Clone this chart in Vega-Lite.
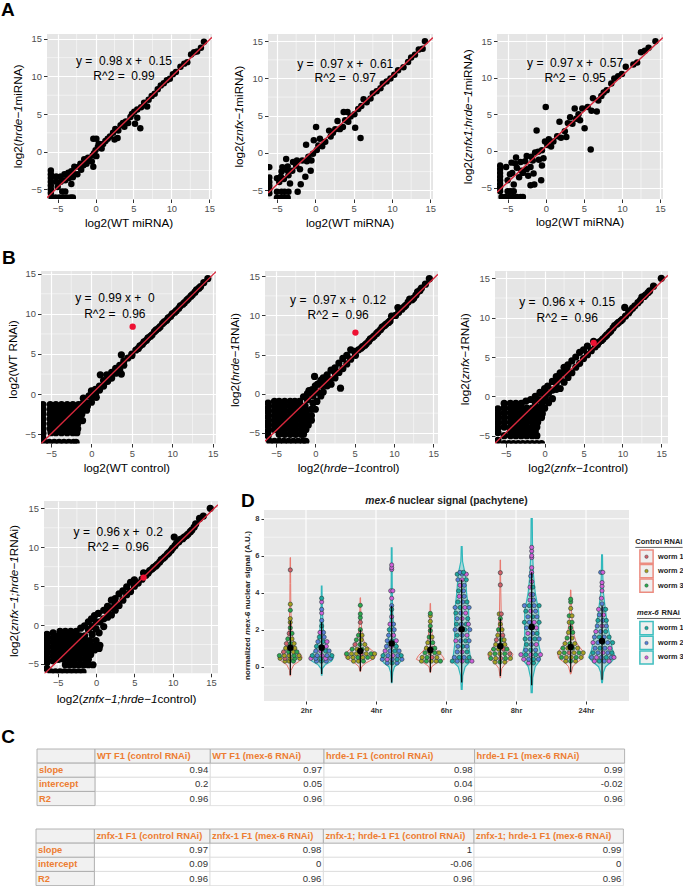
{"$schema":"https://vega.github.io/schema/vega-lite/v6.json","padding":{"left":0,"top":1,"right":0,"bottom":0},"background":"white","config":{"font":"Liberation Sans","view":{"stroke":null},"axis":{"grid":true,"gridColor":"white","gridWidth":1.2,"domain":false,"tickColor":"#333333","tickSize":3.5,"tickWidth":1,"labelColor":"#4D4D4D","labelFontSize":9.4,"labelPadding":2,"labelOverlap":false,"labelFlush":false,"titlePadding":0}},
"datasets":{"sp":[{"a":1}],
"mx":[{"x":-2.5},{"x":2.5},{"x":7.5},{"x":12.5}],"my":[{"y":-2.5},{"y":2.5},{"y":7.5},{"y":12.5}],
"A1":[{"x":-5.9,"y":-2.5},{"x":-5.9,"y":-3},{"x":-5.9,"y":-3.5},{"x":-5.9,"y":-4},{"x":-5.9,"y":-4.5},{"x":-5.9,"y":-5},{"x":-5.9,"y":-5.5},{"x":-5.2,"y":-3.3},{"x":-5.2,"y":-4},{"x":-5,"y":-4.7},{"x":-4.6,"y":-3.3},{"x":-4.6,"y":-4},{"x":-4.4,"y":-5.3},{"x":-4,"y":-5.3},{"x":-4.1,"y":-3},{"x":-4,"y":-3.8},{"x":-3.6,"y":-2.8},{"x":-3.5,"y":-3.5},{"x":-3.2,"y":-2.6},{"x":-3.2,"y":-4.3},{"x":-3,"y":-3.4},{"x":-2.8,"y":-2},{"x":-2.8,"y":-3},{"x":-2.4,"y":-3},{"x":-2.2,"y":-2},{"x":-2,"y":-1.6},{"x":-1.9,"y":-2.4},{"x":-1.6,"y":-1.8},{"x":-1.5,"y":-1},{"x":-1.2,"y":-1.6},{"x":-1,"y":-0.8},{"x":-0.8,"y":-1.2},{"x":-0.5,"y":-1.3},{"x":-0.4,"y":-0.5},{"x":-0.3,"y":-2},{"x":-0.2,"y":-0.2},{"x":0,"y":0.2},{"x":0.1,"y":-0.6},{"x":0.3,"y":0.6},{"x":0.5,"y":1},{"x":-0.3,"y":1.7},{"x":0.1,"y":1.7},{"x":0.4,"y":1},{"x":0.8,"y":0.4},{"x":1,"y":1},{"x":1.3,"y":1.4},{"x":1.6,"y":1.7},{"x":1.9,"y":2},{"x":2.3,"y":2.5},{"x":2.5,"y":1.6},{"x":2.6,"y":3},{"x":2.9,"y":1.8},{"x":3,"y":2.8},{"x":3.3,"y":3.5},{"x":3.6,"y":3.8},{"x":3.8,"y":3.3},{"x":4,"y":4},{"x":4.3,"y":3.8},{"x":4.6,"y":4.6},{"x":4.8,"y":5},{"x":5.1,"y":5.3},{"x":5.5,"y":5.6},{"x":5.2,"y":3.7},{"x":5.9,"y":3.1},{"x":5.5,"y":4.5},{"x":6,"y":5.9},{"x":6.4,"y":6.5},{"x":6.8,"y":6},{"x":7,"y":6.9},{"x":7.4,"y":7.4},{"x":7.8,"y":7.7},{"x":8.2,"y":8.3},{"x":8.6,"y":8.8},{"x":9,"y":9.1},{"x":9.4,"y":9.5},{"x":9.8,"y":9.7},{"x":10.2,"y":10.3},{"x":10.6,"y":10.6},{"x":11.2,"y":11.3},{"x":11.7,"y":11.7},{"x":12.1,"y":11.9},{"x":12.6,"y":12.9},{"x":13,"y":13.2},{"x":13.4,"y":13.3},{"x":13.9,"y":13.8},{"x":14.3,"y":14.6},{"x":-5.8,"y":-6.1},{"x":-5.3,"y":-6.1},{"x":-4.8,"y":-6.1},{"x":-4.3,"y":-6.1},{"x":-3.8,"y":-6.1},{"x":-3.3,"y":-6.1},{"x":-3,"y":-6.1}],
"A2":[{"x":-6,"y":-1.9},{"x":-6,"y":-3.3},{"x":-6,"y":-3.9},{"x":-6,"y":-4.4},{"x":-6,"y":-4.9},{"x":-6,"y":-5.4},{"x":-5,"y":-6},{"x":-4.5,"y":-6},{"x":-4,"y":-6},{"x":-3.6,"y":-6},{"x":-5,"y":-5.2},{"x":-4.4,"y":-5.2},{"x":-4,"y":-5.2},{"x":-3.5,"y":-5.2},{"x":-2.3,"y":-5.2},{"x":-5,"y":-3.4},{"x":-4.7,"y":-3.9},{"x":-4.5,"y":-3.2},{"x":-4.4,"y":-2.5},{"x":-4.3,"y":-1.9},{"x":-4.1,"y":-3.5},{"x":-3.8,"y":-0.8},{"x":-3.7,"y":-2.3},{"x":-3.6,"y":-1.8},{"x":-3.5,"y":-3},{"x":-3.3,"y":-4.1},{"x":-3,"y":-2.4},{"x":-2.9,"y":-1.2},{"x":-2.5,"y":-1.7},{"x":-2.4,"y":-1},{"x":-2,"y":-2.2},{"x":-1.9,"y":-4.2},{"x":-1.7,"y":-1},{"x":-1.3,"y":-3.2},{"x":-1.2,"y":1.1},{"x":-1.1,"y":-1.1},{"x":-0.9,"y":-0.5},{"x":-0.6,"y":-2.4},{"x":-0.5,"y":-1},{"x":-0.3,"y":-0.1},{"x":-0.2,"y":1.7},{"x":0.1,"y":3.5},{"x":0.2,"y":0.4},{"x":0.4,"y":1},{"x":0.6,"y":1.9},{"x":0.9,"y":0.9},{"x":1.3,"y":1.5},{"x":1.8,"y":3},{"x":2,"y":2.2},{"x":2.3,"y":2.7},{"x":2.6,"y":3.2},{"x":2.9,"y":4.3},{"x":3.2,"y":3.2},{"x":3.6,"y":3.5},{"x":3.7,"y":5.5},{"x":3.9,"y":4.4},{"x":4.2,"y":5.5},{"x":4.3,"y":4.2},{"x":4.6,"y":4.9},{"x":5.1,"y":5.2},{"x":5.2,"y":3.4},{"x":5.9,"y":2},{"x":5.6,"y":5.9},{"x":6,"y":6.3},{"x":6.3,"y":7.2},{"x":6.7,"y":6.8},{"x":7.2,"y":7.3},{"x":7.5,"y":8},{"x":8,"y":8.3},{"x":8.5,"y":8.7},{"x":8.8,"y":9.3},{"x":9.3,"y":9.6},{"x":9.8,"y":10},{"x":10.3,"y":10.5},{"x":10.8,"y":11.1},{"x":11.5,"y":11.5},{"x":12.1,"y":12.2},{"x":12.5,"y":12.8},{"x":13,"y":13.2},{"x":13.5,"y":13.9},{"x":14,"y":14},{"x":14.3,"y":15}],
"A3":[{"x":-6,"y":-2},{"x":-6,"y":-2.5},{"x":-6,"y":-3},{"x":-6,"y":-3.5},{"x":-6,"y":-4},{"x":-6,"y":-4.5},{"x":-6,"y":-5},{"x":-6,"y":-5.5},{"x":-5.8,"y":-6.3},{"x":-5.3,"y":-6.3},{"x":-4.8,"y":-6.3},{"x":-4.3,"y":-6.3},{"x":-3.8,"y":-6.3},{"x":-3.3,"y":-6.3},{"x":-3,"y":-6.3},{"x":-5,"y":-5.5},{"x":-4.6,"y":-5.5},{"x":-4.2,"y":-5.5},{"x":-5.2,"y":-2.2},{"x":-5,"y":-4},{"x":-4.7,"y":-3.2},{"x":-4.5,"y":-1.6},{"x":-4.4,"y":-3},{"x":-4.2,"y":-4.6},{"x":-4,"y":-1.7},{"x":-3.9,"y":-0.9},{"x":-3.8,"y":-2.3},{"x":-3.5,"y":-3.6},{"x":-3.3,"y":-1.5},{"x":-3.2,"y":-2.7},{"x":-3,"y":-3},{"x":-2.7,"y":-1.4},{"x":-2.5,"y":-2.5},{"x":-2.5,"y":-0.7},{"x":-2.3,"y":-3.4},{"x":-2,"y":-2.2},{"x":-2,"y":-4.7},{"x":-1.9,"y":-0.8},{"x":-1.7,"y":-1.3},{"x":-1.6,"y":-3.1},{"x":-1.5,"y":-4.6},{"x":-1.4,"y":-0.2},{"x":-1.2,"y":2.8},{"x":-1,"y":-0.1},{"x":-0.9,"y":-1.2},{"x":-0.6,"y":-4},{"x":-0.5,"y":-2},{"x":-0.5,"y":0.1},{"x":-0.3,"y":-1},{"x":-0.1,"y":1.3},{"x":0,"y":6},{"x":0.2,"y":0.8},{"x":0.4,"y":1.6},{"x":0.7,"y":0.6},{"x":1,"y":1.3},{"x":1.5,"y":2},{"x":1.8,"y":4},{"x":2,"y":1.8},{"x":2.5,"y":2.7},{"x":2.7,"y":1.9},{"x":2.9,"y":3.8},{"x":3.2,"y":4.6},{"x":3.5,"y":3.7},{"x":3.8,"y":5.8},{"x":4,"y":4.4},{"x":4.3,"y":5},{"x":4.5,"y":4.2},{"x":4.8,"y":5.8},{"x":5.1,"y":3.1},{"x":5.5,"y":6},{"x":5.9,"y":0.2},{"x":6,"y":5.5},{"x":6.2,"y":7.2},{"x":6.7,"y":5.4},{"x":6.9,"y":6.9},{"x":7.3,"y":7.5},{"x":7.6,"y":8},{"x":8,"y":8.3},{"x":8.6,"y":9.2},{"x":9,"y":9.9},{"x":9.5,"y":10.2},{"x":10,"y":10.5},{"x":10.5,"y":11.5},{"x":11.5,"y":11.8},{"x":12,"y":12.1},{"x":12.5,"y":13.5},{"x":13,"y":13.7},{"x":13.5,"y":14.1},{"x":14.4,"y":15}],
"B1":[{"x":-6,"y":-1.3},{"x":-6,"y":-1.9},{"x":-6,"y":-2.5},{"x":-6,"y":-3.1},{"x":-6,"y":-3.7},{"x":-6,"y":-4.3},{"x":-6,"y":-4.9},{"x":-6,"y":-5.5},{"x":-5.1,"y":-1.3},{"x":-4.4,"y":-1.3},{"x":-3.7,"y":-1.3},{"x":-3,"y":-1.3},{"x":-2.3,"y":-1.3},{"x":-1.6,"y":-1.3},{"x":-5.1,"y":-1.9},{"x":-4.8,"y":-1.9},{"x":-4.1,"y":-1.9},{"x":-3.4,"y":-1.9},{"x":-2.7,"y":-1.9},{"x":-2,"y":-1.9},{"x":-1.5,"y":-1.9},{"x":-5.1,"y":-2.5},{"x":-4.4,"y":-2.5},{"x":-3.7,"y":-2.5},{"x":-3,"y":-2.5},{"x":-2.3,"y":-2.5},{"x":-1.6,"y":-2.5},{"x":-5.1,"y":-3.1},{"x":-4.8,"y":-3.1},{"x":-4.1,"y":-3.1},{"x":-3.4,"y":-3.1},{"x":-2.7,"y":-3.1},{"x":-2,"y":-3.1},{"x":-1.4,"y":-3.1},{"x":-5.1,"y":-3.7},{"x":-4.4,"y":-3.7},{"x":-3.7,"y":-3.7},{"x":-3,"y":-3.7},{"x":-2.3,"y":-3.7},{"x":-1.7,"y":-3.7},{"x":-5.1,"y":-4.3},{"x":-4.8,"y":-4.3},{"x":-4.1,"y":-4.3},{"x":-3.4,"y":-4.3},{"x":-2.7,"y":-4.3},{"x":-2,"y":-4.3},{"x":-1.7,"y":-4.3},{"x":-5,"y":-4.8},{"x":-4.4,"y":-4.8},{"x":-3.7,"y":-4.8},{"x":-3,"y":-4.8},{"x":-2.3,"y":-4.8},{"x":-1.8,"y":-4.8},{"x":-5.8,"y":-6},{"x":-5.2,"y":-6},{"x":-4.6,"y":-6},{"x":-4,"y":-6},{"x":-3.4,"y":-6},{"x":-2.8,"y":-6},{"x":-2.2,"y":-6},{"x":-1.9,"y":-6},{"x":-1,"y":-0.5},{"x":-0.6,"y":-1.1},{"x":-1.2,"y":-2.5},{"x":-0.9,"y":-1.8},{"x":-1.1,"y":-1.2},{"x":-1.1,"y":-3.3},{"x":-0.6,"y":-2},{"x":-0.3,"y":-0.2},{"x":-0.5,"y":-1.5},{"x":0,"y":0.4},{"x":0,"y":-0.4},{"x":0,"y":-1},{"x":0.5,"y":0.6},{"x":0.5,"y":0},{"x":0.6,"y":-0.4},{"x":1,"y":1},{"x":1,"y":0.5},{"x":1.1,"y":2.4},{"x":1.5,"y":1.7},{"x":1.5,"y":1},{"x":1.9,"y":2.4},{"x":2,"y":1.6},{"x":2.5,"y":2.7},{"x":2.5,"y":2},{"x":3,"y":3.2},{"x":3,"y":2.6},{"x":3.5,"y":3.6},{"x":3.7,"y":2.5},{"x":3.5,"y":3},{"x":4,"y":4.1},{"x":4,"y":3.6},{"x":4.5,"y":4.5},{"x":3.7,"y":4.9},{"x":5,"y":5},{"x":5,"y":4.8},{"x":5.5,"y":5.5},{"x":5.8,"y":5.7},{"x":6,"y":6},{"x":6.3,"y":6.2},{"x":6.5,"y":6.5},{"x":6.8,"y":6.7},{"x":7,"y":7},{"x":7.3,"y":7.2},{"x":7.5,"y":7.4},{"x":7.8,"y":7.8},{"x":8,"y":8},{"x":8.3,"y":8.2},{"x":8.5,"y":8.4},{"x":8.8,"y":8.8},{"x":9,"y":9},{"x":9.3,"y":9.2},{"x":9.5,"y":9.5},{"x":9.8,"y":9.7},{"x":10,"y":10},{"x":10.3,"y":10.2},{"x":10.5,"y":10.4},{"x":10.8,"y":10.7},{"x":11,"y":11},{"x":11.3,"y":11.2},{"x":11.5,"y":11.4},{"x":11.8,"y":11.7},{"x":12,"y":11.9},{"x":12.3,"y":12.2},{"x":12.5,"y":12.4},{"x":12.8,"y":12.7},{"x":13,"y":13},{"x":13.3,"y":13.2},{"x":13.5,"y":13.4},{"x":13.9,"y":13.9},{"x":14.4,"y":14.4}],
"B2":[{"x":-6,"y":-1.2},{"x":-6,"y":-1.8},{"x":-6,"y":-2.4},{"x":-6,"y":-3},{"x":-6,"y":-3.6},{"x":-6,"y":-4.2},{"x":-6,"y":-4.8},{"x":-6,"y":-5.4},{"x":-5.8,"y":-6.1},{"x":-5.2,"y":-6.1},{"x":-4.6,"y":-6.1},{"x":-4,"y":-6.1},{"x":-3.4,"y":-6.1},{"x":-2.8,"y":-6.1},{"x":-2.2,"y":-6.1},{"x":-1.6,"y":-6.1},{"x":-1.2,"y":-6.1},{"x":-5.2,"y":-1},{"x":-4.6,"y":-1},{"x":-3.9,"y":-1},{"x":-3.2,"y":-1},{"x":-2.6,"y":-1},{"x":-2,"y":-1},{"x":-5.2,"y":-1.6},{"x":-4.6,"y":-1.6},{"x":-3.9,"y":-1.6},{"x":-3.2,"y":-1.6},{"x":-2.5,"y":-1.6},{"x":-1.8,"y":-1.6},{"x":-1.3,"y":-1.6},{"x":-5.2,"y":-2.2},{"x":-4.6,"y":-2.2},{"x":-3.9,"y":-2.2},{"x":-3.2,"y":-2.2},{"x":-2.5,"y":-2.2},{"x":-1.8,"y":-2.2},{"x":-1.1,"y":-2.2},{"x":-5.2,"y":-2.8},{"x":-4.6,"y":-2.8},{"x":-3.9,"y":-2.8},{"x":-3.2,"y":-2.8},{"x":-2.5,"y":-2.8},{"x":-1.8,"y":-2.8},{"x":-1.1,"y":-2.8},{"x":-0.5,"y":-2.8},{"x":-5.2,"y":-3.4},{"x":-4.6,"y":-3.4},{"x":-3.9,"y":-3.4},{"x":-3.2,"y":-3.4},{"x":-2.5,"y":-3.4},{"x":-1.8,"y":-3.4},{"x":-1.1,"y":-3.4},{"x":-0.5,"y":-3.4},{"x":-5.2,"y":-4},{"x":-4.6,"y":-4},{"x":-3.9,"y":-4},{"x":-3.2,"y":-4},{"x":-2.5,"y":-4},{"x":-1.8,"y":-4},{"x":-1.1,"y":-4},{"x":-0.9,"y":-4},{"x":-5.2,"y":-4.6},{"x":-4.6,"y":-4.6},{"x":-3.9,"y":-4.6},{"x":-3.2,"y":-4.6},{"x":-2.5,"y":-4.6},{"x":-1.8,"y":-4.6},{"x":-1.2,"y":-4.6},{"x":-4.6,"y":-5.2},{"x":-3.9,"y":-5.2},{"x":-3.2,"y":-5.2},{"x":-2.5,"y":-5.2},{"x":-1.8,"y":-5.2},{"x":-1.5,"y":-5.2},{"x":-1.5,"y":-0.4},{"x":-1,"y":0},{"x":-1,"y":-0.8},{"x":-0.8,"y":0.4},{"x":-0.4,"y":0.5},{"x":0,"y":1},{"x":0,"y":0.2},{"x":-0.1,"y":2.2},{"x":0.3,"y":1.2},{"x":0.7,"y":1.7},{"x":0.9,"y":1},{"x":1,"y":2},{"x":1.5,"y":2.4},{"x":1.4,"y":1.6},{"x":2,"y":3},{"x":2.5,"y":3.3},{"x":2.5,"y":2.7},{"x":3,"y":3.9},{"x":3.5,"y":4.5},{"x":4,"y":4.9},{"x":4.5,"y":5.6},{"x":-0.5,"y":-2},{"x":-0.3,"y":-1.2},{"x":-0.3,"y":-0.3},{"x":0,"y":-2},{"x":0.2,"y":-1},{"x":0.3,"y":0.2},{"x":0.7,"y":-0.3},{"x":1,"y":0.2},{"x":1.5,"y":1},{"x":1.8,"y":1.8},{"x":2,"y":1.2},{"x":2.5,"y":2},{"x":3,"y":2.7},{"x":3.2,"y":0.7},{"x":3.5,"y":3.2},{"x":4,"y":3.8},{"x":4.5,"y":4.4},{"x":5,"y":5.4},{"x":5.1,"y":4.9},{"x":5.5,"y":5.6},{"x":5.8,"y":5.8},{"x":6,"y":6},{"x":6.3,"y":6.2},{"x":6.5,"y":6.4},{"x":6.8,"y":6.7},{"x":7,"y":7},{"x":7.3,"y":7.2},{"x":7.5,"y":7.4},{"x":7.8,"y":7.7},{"x":8,"y":7.9},{"x":8.3,"y":8.2},{"x":8.5,"y":8.5},{"x":8.8,"y":8.7},{"x":9,"y":8.9},{"x":9.3,"y":9.1},{"x":9.5,"y":9.3},{"x":9.7,"y":9.9},{"x":10.2,"y":10},{"x":10.5,"y":11},{"x":10.6,"y":10.4},{"x":11,"y":10.8},{"x":11.3,"y":11.1},{"x":11.5,"y":11.3},{"x":11.8,"y":11.7},{"x":12,"y":12.1},{"x":12.3,"y":12},{"x":12.5,"y":12.2},{"x":12.8,"y":12.6},{"x":13,"y":13},{"x":13.3,"y":13.2},{"x":13.5,"y":13.5},{"x":14,"y":14},{"x":14.5,"y":14.7}],
"B3":[{"x":-6,"y":-1.6},{"x":-6,"y":-2.2},{"x":-6,"y":-2.8},{"x":-6,"y":-3.4},{"x":-6,"y":-4},{"x":-6,"y":-4.6},{"x":-6,"y":-5.6},{"x":-5.2,"y":-6},{"x":-4.6,"y":-6},{"x":-4,"y":-6},{"x":-3.4,"y":-6},{"x":-2.8,"y":-6},{"x":-2.2,"y":-6},{"x":-1.6,"y":-6},{"x":-1,"y":-6},{"x":-0.4,"y":-6},{"x":-5.2,"y":-0.9},{"x":-4.4,"y":-0.9},{"x":-3.7,"y":-0.9},{"x":-3,"y":-0.9},{"x":-5.2,"y":-1.5},{"x":-4.4,"y":-1.5},{"x":-3.7,"y":-1.5},{"x":-3,"y":-1.5},{"x":-2.3,"y":-1.5},{"x":-1.6,"y":-1.5},{"x":-1.1,"y":-1.5},{"x":-5.2,"y":-2.1},{"x":-4.4,"y":-2.1},{"x":-3.7,"y":-2.1},{"x":-3,"y":-2.1},{"x":-2.3,"y":-2.1},{"x":-1.6,"y":-2.1},{"x":-1,"y":-2.1},{"x":-0.6,"y":-2.1},{"x":-5.2,"y":-2.7},{"x":-4.4,"y":-2.7},{"x":-3.7,"y":-2.7},{"x":-3,"y":-2.7},{"x":-2.3,"y":-2.7},{"x":-1.6,"y":-2.7},{"x":-1,"y":-2.7},{"x":-0.4,"y":-2.7},{"x":-5.2,"y":-3.3},{"x":-4.4,"y":-3.3},{"x":-3.7,"y":-3.3},{"x":-3,"y":-3.3},{"x":-2.3,"y":-3.3},{"x":-1.6,"y":-3.3},{"x":-0.9,"y":-3.3},{"x":-5.2,"y":-3.9},{"x":-4.4,"y":-3.9},{"x":-3.7,"y":-3.9},{"x":-3,"y":-3.9},{"x":-2.3,"y":-3.9},{"x":-1.6,"y":-3.9},{"x":-1,"y":-3.9},{"x":-5.2,"y":-5},{"x":-4.4,"y":-5},{"x":-3.7,"y":-5},{"x":-3,"y":-5},{"x":-2.3,"y":-5},{"x":-1.6,"y":-5},{"x":-1,"y":-5},{"x":-4.4,"y":-4.4},{"x":-3.7,"y":-4.4},{"x":-3,"y":-4.4},{"x":-2.3,"y":-4.4},{"x":-1.6,"y":-4.4},{"x":-1.2,"y":-4.4},{"x":-2.4,"y":-0.6},{"x":-1.8,"y":-0.4},{"x":-1.2,"y":0},{"x":-1.2,"y":-0.8},{"x":-0.6,"y":0.5},{"x":-0.6,"y":-0.4},{"x":0,"y":1},{"x":0,"y":0.2},{"x":0.4,"y":1.3},{"x":1,"y":1.9},{"x":1.5,"y":2.5},{"x":1.5,"y":1.7},{"x":2,"y":3},{"x":2,"y":2.2},{"x":2.5,"y":3.7},{"x":2.5,"y":3},{"x":3,"y":4},{"x":3,"y":3.2},{"x":3.5,"y":4.5},{"x":4,"y":5},{"x":4.5,"y":5.6},{"x":5,"y":5.9},{"x":5.5,"y":6.4},{"x":6.3,"y":7},{"x":-0.6,"y":-1.4},{"x":-0.3,"y":-2.2},{"x":-0.3,"y":-0.8},{"x":0,"y":-1.5},{"x":0.1,"y":-0.2},{"x":0.5,"y":-0.8},{"x":0.5,"y":0.4},{"x":1,"y":-0.3},{"x":1,"y":0.8},{"x":1.5,"y":0.9},{"x":2,"y":1},{"x":2.5,"y":1.8},{"x":3,"y":2.4},{"x":3.5,"y":3},{"x":4,"y":3.7},{"x":4.5,"y":4.2},{"x":5,"y":4.8},{"x":5.5,"y":5.3},{"x":6,"y":5.8},{"x":6.5,"y":6.3},{"x":6.8,"y":6.6},{"x":7,"y":6.9},{"x":7.3,"y":7.1},{"x":7.5,"y":7.3},{"x":7.8,"y":7.6},{"x":8,"y":7.8},{"x":8.3,"y":8.1},{"x":8.5,"y":8.3},{"x":8.8,"y":8.7},{"x":9,"y":9},{"x":9.3,"y":9.2},{"x":9.5,"y":9.4},{"x":9.8,"y":9.6},{"x":10,"y":9.8},{"x":10.3,"y":11.3},{"x":10.4,"y":10.2},{"x":10.8,"y":10.6},{"x":11,"y":10.9},{"x":11.3,"y":11.2},{"x":11.6,"y":11.5},{"x":12,"y":11.9},{"x":12.3,"y":12.2},{"x":12.5,"y":12.6},{"x":12.8,"y":12.7},{"x":13,"y":12.9},{"x":13.3,"y":13.2},{"x":13.5,"y":13.4},{"x":14,"y":14},{"x":15,"y":15}],
"B4":[{"x":-6.4,"y":-1.2},{"x":-6.4,"y":-1.8},{"x":-6.4,"y":-2.4},{"x":-6.4,"y":-3},{"x":-6.4,"y":-3.6},{"x":-6.4,"y":-4.2},{"x":-6.4,"y":-4.8},{"x":-6.4,"y":-5.6},{"x":-5.6,"y":-1},{"x":-5.6,"y":-1.6},{"x":-5.6,"y":-2.2},{"x":-5.6,"y":-2.8},{"x":-5.6,"y":-3.4},{"x":-5.6,"y":-4},{"x":-5.6,"y":-4.6},{"x":-5.9,"y":-6},{"x":-5.3,"y":-6},{"x":-4.7,"y":-6},{"x":-4.1,"y":-6},{"x":-3.5,"y":-6},{"x":-2.9,"y":-6},{"x":-2.3,"y":-6},{"x":-1.7,"y":-6},{"x":-4.7,"y":-0.8},{"x":-4,"y":-0.8},{"x":-3.3,"y":-0.8},{"x":-2.6,"y":-0.8},{"x":-4.9,"y":-1.4},{"x":-4.2,"y":-1.4},{"x":-3.5,"y":-1.4},{"x":-2.8,"y":-1.4},{"x":-2.1,"y":-1.4},{"x":-1.5,"y":-1.4},{"x":-4.9,"y":-2},{"x":-4.2,"y":-2},{"x":-3.5,"y":-2},{"x":-2.8,"y":-2},{"x":-2.1,"y":-2},{"x":-1.4,"y":-2},{"x":-0.8,"y":-2},{"x":-4.9,"y":-2.6},{"x":-4.2,"y":-2.6},{"x":-3.5,"y":-2.6},{"x":-2.8,"y":-2.6},{"x":-2.1,"y":-2.6},{"x":-1.4,"y":-2.6},{"x":-0.7,"y":-2.6},{"x":0,"y":-2.6},{"x":0.5,"y":-2.6},{"x":-4.9,"y":-3.2},{"x":-4.2,"y":-3.2},{"x":-3.5,"y":-3.2},{"x":-2.8,"y":-3.2},{"x":-2.1,"y":-3.2},{"x":-1.4,"y":-3.2},{"x":-0.7,"y":-3.2},{"x":-0.2,"y":-3.2},{"x":0.4,"y":-3},{"x":-4.9,"y":-3.8},{"x":-4.2,"y":-3.8},{"x":-3.5,"y":-3.8},{"x":-2.8,"y":-3.8},{"x":-2.1,"y":-3.8},{"x":-1.4,"y":-3.8},{"x":-0.7,"y":-3.8},{"x":-4.9,"y":-4.4},{"x":-4.2,"y":-4.4},{"x":-3.5,"y":-4.4},{"x":-2.8,"y":-4.4},{"x":-2.1,"y":-4.4},{"x":-1.4,"y":-4.4},{"x":-1,"y":-4.4},{"x":-4,"y":-5.1},{"x":-3.4,"y":-5.1},{"x":-2.8,"y":-5.1},{"x":-2.2,"y":-5.1},{"x":-1.6,"y":-5.1},{"x":-1,"y":-5.1},{"x":-0.4,"y":-5.1},{"x":-2,"y":-0.4},{"x":-1.5,"y":-0.1},{"x":-1,"y":0.4},{"x":-1,"y":-0.6},{"x":-0.6,"y":0.8},{"x":-0.5,"y":-0.2},{"x":-0.2,"y":1.2},{"x":0,"y":0.4},{"x":0.3,"y":1.5},{"x":1,"y":1.9},{"x":1.5,"y":2.4},{"x":1.5,"y":1.7},{"x":2,"y":3.2},{"x":2,"y":2.2},{"x":2.5,"y":3.4},{"x":2.5,"y":2.7},{"x":3,"y":4},{"x":3.5,"y":4.4},{"x":4,"y":4.9},{"x":4.5,"y":5.5},{"x":5,"y":5.8},{"x":6.2,"y":6.7},{"x":-0.5,"y":-1.2},{"x":0,"y":-0.5},{"x":0,"y":-2},{"x":0.4,"y":-1},{"x":0.5,"y":0.4},{"x":1,"y":-0.2},{"x":1,"y":0.8},{"x":1.5,"y":1},{"x":2,"y":1.3},{"x":2.5,"y":1.9},{"x":3,"y":2.5},{"x":3.5,"y":3.2},{"x":4,"y":3.9},{"x":4.5,"y":4.3},{"x":5,"y":5},{"x":5.5,"y":5.4},{"x":6,"y":5.9},{"x":6.5,"y":6.4},{"x":6.8,"y":6.7},{"x":7,"y":7},{"x":7.3,"y":7.2},{"x":7.5,"y":7.4},{"x":7.8,"y":7.6},{"x":8,"y":7.8},{"x":8.3,"y":8.1},{"x":8.5,"y":8.4},{"x":8.8,"y":8.6},{"x":9,"y":8.8},{"x":9.3,"y":9.1},{"x":9.5,"y":9.3},{"x":9.8,"y":9.6},{"x":10.2,"y":11.3},{"x":10,"y":9.9},{"x":10.3,"y":10.2},{"x":10.5,"y":10.5},{"x":10.8,"y":10.7},{"x":11,"y":11},{"x":11.3,"y":11.1},{"x":11.5,"y":11.3},{"x":11.8,"y":11.5},{"x":12,"y":11.7},{"x":12.3,"y":12},{"x":12.5,"y":12.2},{"x":12.8,"y":12.6},{"x":13,"y":13},{"x":13.5,"y":13.7},{"x":14,"y":14},{"x":14.9,"y":15}],
"A1f":[{"x":-6.41,"y":-6.13},{"x":15.36,"y":15.2}],"A2f":[{"x":-6.17,"y":-5.37},{"x":15.35,"y":15.5}],"A3f":[{"x":-6.4,"y":-5.64},{"x":15.39,"y":15.5}],"B1f":[{"x":-6.24,"y":-6.18},{"x":15.41,"y":15.26}],"B2f":[{"x":-6.4,"y":-6.09},{"x":15.6,"y":15.25}],"B3f":[{"x":-6.38,"y":-5.97},{"x":15.86,"y":15.38}],"B4f":[{"x":-6.79,"y":-6.32},{"x":15.91,"y":15.47}],
"A1n":[{"x":3.75,"y":12,"text":"y =\u00a0 0.98 x +\u00a0 0.15"},{"x":3.75,"y":10,"text":"R^2 =\u00a0 0.99"}],"A2n":[{"x":3.9,"y":12,"text":"y =\u00a0 0.97 x +\u00a0 0.61"},{"x":3.9,"y":10,"text":"R^2 =\u00a0 0.97"}],"A3n":[{"x":3.85,"y":12,"text":"y =\u00a0 0.97 x +\u00a0 0.57"},{"x":3.85,"y":10,"text":"R^2 =\u00a0 0.95"}],"B1n":[{"x":2.9,"y":12,"text":"y =\u00a0 0.99 x +\u00a0 0"},{"x":2.9,"y":10,"text":"R^2 =\u00a0 0.96"}],"B2n":[{"x":2.9,"y":12,"text":"y =\u00a0 0.97 x +\u00a0 0.12"},{"x":2.9,"y":10,"text":"R^2 =\u00a0 0.96"}],"B3n":[{"x":2.9,"y":12,"text":"y =\u00a0 0.96 x +\u00a0 0.15"},{"x":2.9,"y":10,"text":"R^2 =\u00a0 0.96"}],"B4n":[{"x":2.9,"y":12,"text":"y =\u00a0 0.96 x +\u00a0 0.2"},{"x":2.9,"y":10,"text":"R^2 =\u00a0 0.96"}],
"B1h":[{"x":5.1,"y":8.4}],"B2h":[{"x":5.1,"y":7.8}],"B3h":[{"x":6.3,"y":6.8}],"B4h":[{"x":6.2,"y":6.1}],
"A1t":[{"x":-1.4,"y":-9.43,"text":"log2(WT miRNA)","a":"x","s":"n"},{"x":-10.2,"y":-2.21,"text":"log2(","a":"y","s":"n"},{"x":-10.2,"y":1.25,"text":"hrde−1","a":"y","s":"i"},{"x":-10.2,"y":6.13,"text":"miRNA)","a":"y","s":"n"}],
"A2t":[{"x":-1.22,"y":-9.34,"text":"log2(WT miRNA)","a":"x","s":"n"},{"x":-9.92,"y":-1.95,"text":"log2(","a":"y","s":"n"},{"x":-9.92,"y":1.54,"text":"znfx−1","a":"y","s":"i"},{"x":-9.92,"y":6.21,"text":"miRNA)","a":"y","s":"n"}],
"A3t":[{"x":-1.29,"y":-9.77,"text":"log2(WT miRNA)","a":"x","s":"n"},{"x":-10.17,"y":-4.54,"text":"log2(","a":"y","s":"n"},{"x":-10.17,"y":-0.99,"text":"znfx1;hrde−1","a":"y","s":"i"},{"x":-10.17,"y":8.29,"text":"miRNA)","a":"y","s":"n"}],
"B1t":[{"x":-0.95,"y":-9.2,"text":"log2(WT control)","a":"x","s":"n"},{"x":-9.7,"y":-0.57,"text":"log2(WT RNAi)","a":"y","s":"n"}],
"B2t":[{"x":-2.24,"y":-9.51,"text":"log2(","a":"x","s":"n"},{"x":1.07,"y":-9.51,"text":"hrde−1","a":"x","s":"i"},{"x":5.74,"y":-9.51,"text":"control)","a":"x","s":"n"},{"x":-10.17,"y":-1.71,"text":"log2(","a":"y","s":"n"},{"x":-10.17,"y":1.61,"text":"hrde−1","a":"y","s":"i"},{"x":-10.17,"y":6.3,"text":"RNAi)","a":"y","s":"n"}],
"B3t":[{"x":-2.09,"y":-9.1,"text":"log2(","a":"x","s":"n"},{"x":1.25,"y":-9.1,"text":"znfx−1","a":"x","s":"i"},{"x":5.72,"y":-9.1,"text":"control)","a":"x","s":"n"},{"x":-10.27,"y":-1.14,"text":"log2(","a":"y","s":"n"},{"x":-10.27,"y":2.16,"text":"znfx−1","a":"y","s":"i"},{"x":-10.27,"y":6.58,"text":"RNAi)","a":"y","s":"n"}],
"B4t":[{"x":-5.13,"y":-9.47,"text":"log2(","a":"x","s":"n"},{"x":-1.74,"y":-9.47,"text":"znfx−1;hrde−1","a":"x","s":"i"},{"x":8.01,"y":-9.47,"text":"control)","a":"x","s":"n"},{"x":-10.74,"y":-4.11,"text":"log2(","a":"y","s":"n"},{"x":-10.74,"y":-0.77,"text":"znfx−1;hrde−1","a":"y","s":"i"},{"x":-10.74,"y":8.84,"text":"RNAi)","a":"y","s":"n"}],
"LA":[{"x":-12.48,"y":17.97,"text":"A"}],"LB":[{"x":-11.06,"y":16.2,"text":"B"}],"LC":[{"x":-0.615,"y":-0.4,"text":"C"}],"LD":[{"x":0.07,"y":8.63,"text":"D"}],
"dbg":[{"x":0.4,"x2":5.614,"y":-1.854,"y2":8.47}],
"dvg":[{"x":1,"y":-1.854,"y2":8.47},{"x":2,"y":-1.854,"y2":8.47},{"x":3,"y":-1.854,"y2":8.47},{"x":4,"y":-1.854,"y2":8.47},{"x":5,"y":-1.854,"y2":8.47}],
"dmaj":[{"y":0},{"y":2},{"y":4},{"y":6},{"y":8}],"dmin":[{"y":-1},{"y":1},{"y":3},{"y":5},{"y":7}],
"dT":[{"x":1.847,"y":8.96,"text":"mex-6","s":"i","a":"x"},{"x":2.31,"y":8.96,"text":"nuclear signal (pachytene)","s":"n","a":"x"}],
"dY":[{"x":0.176,"y":-0.72,"text":"normalized","s":"n","a":"y"},{"x":0.176,"y":1.71,"text":"mex-6","s":"i","a":"y"},{"x":0.176,"y":3.1,"text":"nuclear signal (A.U.)","s":"n","a":"y"}],
"mean":[{"x":0.776,"y":1.03},{"x":1.224,"y":1.03},{"x":1.776,"y":0.85},{"x":2.224,"y":1.26},{"x":2.776,"y":0.9},{"x":3.224,"y":2.02},{"x":3.776,"y":1.1},{"x":4.224,"y":2.14},{"x":4.781,"y":1.06},{"x":5.229,"y":1.39}],
"whisk":[{"x":0.776,"y":-0.45,"y2":2.47},{"x":1.224,"y":-0.4,"y2":2.4},{"x":1.776,"y":-0.25,"y2":2},{"x":2.224,"y":-0.85,"y2":3.3},{"x":2.776,"y":-0.3,"y2":2.1},{"x":3.224,"y":-0.85,"y2":4.7},{"x":3.776,"y":-0.5,"y2":2.6},{"x":4.224,"y":-1,"y2":5.1},{"x":4.781,"y":-0.3,"y2":2.3},{"x":5.229,"y":-0.7,"y2":3.3}],
"vio":[{"v":1,"t":"c","y":-0.5,"x":0.772,"x2":0.78},{"v":1,"t":"c","y":-0.2,"x":0.766,"x2":0.786},{"v":1,"t":"c","y":0.1,"x":0.726,"x2":0.826},{"v":1,"t":"c","y":0.3,"x":0.646,"x2":0.906},{"v":1,"t":"c","y":0.5,"x":0.606,"x2":0.946},{"v":1,"t":"c","y":0.7,"x":0.636,"x2":0.916},{"v":1,"t":"c","y":1,"x":0.706,"x2":0.846},{"v":1,"t":"c","y":1.3,"x":0.731,"x2":0.821},{"v":1,"t":"c","y":2,"x":0.756,"x2":0.796},{"v":1,"t":"c","y":3,"x":0.768,"x2":0.784},{"v":1,"t":"c","y":4.5,"x":0.771,"x2":0.781},{"v":1,"t":"c","y":5.9,"x":0.773,"x2":0.779},
{"v":2,"t":"m","y":-0.45,"x":1.22,"x2":1.228},{"v":2,"t":"m","y":-0.1,"x":1.214,"x2":1.234},{"v":2,"t":"m","y":0.1,"x":1.174,"x2":1.274},{"v":2,"t":"m","y":0.3,"x":1.084,"x2":1.364},{"v":2,"t":"m","y":0.5,"x":1.054,"x2":1.394},{"v":2,"t":"m","y":0.7,"x":1.094,"x2":1.354},{"v":2,"t":"m","y":1,"x":1.149,"x2":1.299},{"v":2,"t":"m","y":1.3,"x":1.174,"x2":1.274},{"v":2,"t":"m","y":2,"x":1.199,"x2":1.249},{"v":2,"t":"m","y":3,"x":1.214,"x2":1.234},{"v":2,"t":"m","y":3.7,"x":1.218,"x2":1.23},{"v":2,"t":"m","y":4.36,"x":1.22,"x2":1.228},
{"v":3,"t":"c","y":-0.27,"x":1.773,"x2":1.779},{"v":3,"t":"c","y":0,"x":1.756,"x2":1.796},{"v":3,"t":"c","y":0.2,"x":1.696,"x2":1.856},{"v":3,"t":"c","y":0.45,"x":1.576,"x2":1.976},{"v":3,"t":"c","y":0.67,"x":1.546,"x2":2.006},{"v":3,"t":"c","y":0.9,"x":1.616,"x2":1.936},{"v":3,"t":"c","y":1.2,"x":1.706,"x2":1.846},{"v":3,"t":"c","y":1.5,"x":1.736,"x2":1.816},{"v":3,"t":"c","y":2,"x":1.756,"x2":1.796},{"v":3,"t":"c","y":2.6,"x":1.766,"x2":1.786},{"v":3,"t":"c","y":3.3,"x":1.771,"x2":1.781},{"v":3,"t":"c","y":3.73,"x":1.773,"x2":1.779},
{"v":4,"t":"m","y":-0.86,"x":2.22,"x2":2.228},{"v":4,"t":"m","y":-0.3,"x":2.209,"x2":2.239},{"v":4,"t":"m","y":0,"x":2.184,"x2":2.264},{"v":4,"t":"m","y":0.2,"x":2.114,"x2":2.334},{"v":4,"t":"m","y":0.4,"x":2.074,"x2":2.374},{"v":4,"t":"m","y":0.7,"x":2.104,"x2":2.344},{"v":4,"t":"m","y":1,"x":2.144,"x2":2.304},{"v":4,"t":"m","y":1.5,"x":2.174,"x2":2.274},{"v":4,"t":"m","y":2.2,"x":2.199,"x2":2.249},{"v":4,"t":"m","y":3.2,"x":2.212,"x2":2.236},{"v":4,"t":"m","y":4.5,"x":2.217,"x2":2.231},{"v":4,"t":"m","y":6.43,"x":2.219,"x2":2.229},
{"v":5,"t":"c","y":-0.32,"x":2.773,"x2":2.779},{"v":5,"t":"c","y":0,"x":2.756,"x2":2.796},{"v":5,"t":"c","y":0.2,"x":2.686,"x2":2.866},{"v":5,"t":"c","y":0.4,"x":2.576,"x2":2.976},{"v":5,"t":"c","y":0.6,"x":2.606,"x2":2.946},{"v":5,"t":"c","y":0.9,"x":2.686,"x2":2.866},{"v":5,"t":"c","y":1.2,"x":2.726,"x2":2.826},{"v":5,"t":"c","y":1.6,"x":2.746,"x2":2.806},{"v":5,"t":"c","y":2,"x":2.756,"x2":2.796},{"v":5,"t":"c","y":2.5,"x":2.766,"x2":2.786},{"v":5,"t":"c","y":3,"x":2.771,"x2":2.781},{"v":5,"t":"c","y":3.42,"x":2.773,"x2":2.779},
{"v":6,"t":"m","y":-1.23,"x":3.218,"x2":3.23},{"v":6,"t":"m","y":-0.5,"x":3.209,"x2":3.239},{"v":6,"t":"m","y":0,"x":3.174,"x2":3.274},{"v":6,"t":"m","y":0.3,"x":3.094,"x2":3.354},{"v":6,"t":"m","y":0.6,"x":3.104,"x2":3.344},{"v":6,"t":"m","y":1.2,"x":3.124,"x2":3.324},{"v":6,"t":"m","y":2,"x":3.124,"x2":3.324},{"v":6,"t":"m","y":3,"x":3.124,"x2":3.324},{"v":6,"t":"m","y":4,"x":3.154,"x2":3.294},{"v":6,"t":"m","y":5,"x":3.174,"x2":3.274},{"v":6,"t":"m","y":5.7,"x":3.212,"x2":3.236},{"v":6,"t":"m","y":6.49,"x":3.218,"x2":3.23},
{"v":7,"t":"c","y":-0.6,"x":3.773,"x2":3.779},{"v":7,"t":"c","y":-0.1,"x":3.756,"x2":3.796},{"v":7,"t":"c","y":0.2,"x":3.696,"x2":3.856},{"v":7,"t":"c","y":0.45,"x":3.616,"x2":3.936},{"v":7,"t":"c","y":0.67,"x":3.596,"x2":3.956},{"v":7,"t":"c","y":0.9,"x":3.646,"x2":3.906},{"v":7,"t":"c","y":1.2,"x":3.696,"x2":3.856},{"v":7,"t":"c","y":1.6,"x":3.726,"x2":3.826},{"v":7,"t":"c","y":2.2,"x":3.751,"x2":3.801},{"v":7,"t":"c","y":3,"x":3.764,"x2":3.788},{"v":7,"t":"c","y":4.5,"x":3.771,"x2":3.781},{"v":7,"t":"c","y":5.77,"x":3.773,"x2":3.779},
{"v":8,"t":"m","y":-1.4,"x":4.216,"x2":4.232},{"v":8,"t":"m","y":-0.6,"x":4.209,"x2":4.239},{"v":8,"t":"m","y":0,"x":4.174,"x2":4.274},{"v":8,"t":"m","y":0.3,"x":4.114,"x2":4.334},{"v":8,"t":"m","y":0.7,"x":4.094,"x2":4.354},{"v":8,"t":"m","y":1.2,"x":4.124,"x2":4.324},{"v":8,"t":"m","y":2,"x":4.124,"x2":4.324},{"v":8,"t":"m","y":3,"x":4.124,"x2":4.324},{"v":8,"t":"m","y":4,"x":4.174,"x2":4.274},{"v":8,"t":"m","y":5,"x":4.199,"x2":4.249},{"v":8,"t":"m","y":6.3,"x":4.212,"x2":4.236},{"v":8,"t":"m","y":8,"x":4.216,"x2":4.232},
{"v":9,"t":"c","y":-0.4,"x":4.778,"x2":4.784},{"v":9,"t":"c","y":0,"x":4.751,"x2":4.811},{"v":9,"t":"c","y":0.2,"x":4.701,"x2":4.861},{"v":9,"t":"c","y":0.45,"x":4.611,"x2":4.951},{"v":9,"t":"c","y":0.75,"x":4.591,"x2":4.971},{"v":9,"t":"c","y":1,"x":4.641,"x2":4.921},{"v":9,"t":"c","y":1.3,"x":4.701,"x2":4.861},{"v":9,"t":"c","y":1.7,"x":4.731,"x2":4.831},{"v":9,"t":"c","y":2.3,"x":4.756,"x2":4.806},{"v":9,"t":"c","y":3,"x":4.769,"x2":4.793},{"v":9,"t":"c","y":3.6,"x":4.775,"x2":4.787},{"v":9,"t":"c","y":4.15,"x":4.778,"x2":4.784},
{"v":10,"t":"m","y":-0.86,"x":5.224,"x2":5.234},{"v":10,"t":"m","y":-0.3,"x":5.209,"x2":5.249},{"v":10,"t":"m","y":0,"x":5.179,"x2":5.279},{"v":10,"t":"m","y":0.25,"x":5.099,"x2":5.359},{"v":10,"t":"m","y":0.5,"x":5.039,"x2":5.419},{"v":10,"t":"m","y":0.9,"x":5.079,"x2":5.379},{"v":10,"t":"m","y":1.5,"x":5.109,"x2":5.349},{"v":10,"t":"m","y":2.2,"x":5.149,"x2":5.309},{"v":10,"t":"m","y":3,"x":5.179,"x2":5.279},{"v":10,"t":"m","y":4,"x":5.209,"x2":5.249},{"v":10,"t":"m","y":5,"x":5.219,"x2":5.239},{"v":10,"t":"m","y":6.04,"x":5.223,"x2":5.235}],
"swarm":[{"g":"b","x":0.7,"y":0.3},{"g":"b","x":0.76,"y":0.3},{"g":"c","x":0.82,"y":0.3},{"g":"b","x":0.63,"y":0.45},{"g":"a","x":0.7,"y":0.45},{"g":"b","x":0.77,"y":0.45},{"g":"c","x":0.84,"y":0.45},{"g":"b","x":0.91,"y":0.45},{"g":"c","x":0.62,"y":0.6},{"g":"b","x":0.69,"y":0.6},{"g":"b","x":0.76,"y":0.6},{"g":"c","x":0.83,"y":0.6},{"g":"b","x":0.9,"y":0.6},{"g":"a","x":0.68,"y":0.8},{"g":"c","x":0.75,"y":0.8},{"g":"b","x":0.82,"y":0.8},{"g":"c","x":0.87,"y":0.8},{"g":"b","x":0.71,"y":1},{"g":"c","x":0.78,"y":1},{"g":"b","x":0.84,"y":1},{"g":"a","x":0.72,"y":1.25},{"g":"c","x":0.78,"y":1.25},{"g":"b","x":0.83,"y":1.25},{"g":"c","x":0.74,"y":1.5},{"g":"b","x":0.8,"y":1.5},{"g":"a","x":0.76,"y":1.8},{"g":"c","x":0.8,"y":1.8},{"g":"c","x":0.775,"y":2.1},{"g":"b","x":0.775,"y":2.4},{"g":"b","x":0.775,"y":2.6},{"g":"c","x":0.776,"y":3.05},{"g":"b","x":0.776,"y":3.38},{"g":"a","x":0.776,"y":5.23},
{"g":"e","x":1.15,"y":0.3},{"g":"d","x":1.22,"y":0.3},{"g":"e","x":1.29,"y":0.3},{"g":"f","x":1.07,"y":0.45},{"g":"e","x":1.14,"y":0.45},{"g":"d","x":1.21,"y":0.45},{"g":"f","x":1.28,"y":0.45},{"g":"e","x":1.35,"y":0.45},{"g":"d","x":1.09,"y":0.6},{"g":"e","x":1.16,"y":0.6},{"g":"f","x":1.23,"y":0.6},{"g":"e","x":1.3,"y":0.6},{"g":"d","x":1.37,"y":0.6},{"g":"e","x":1.14,"y":0.85},{"g":"f","x":1.21,"y":0.85},{"g":"d","x":1.28,"y":0.85},{"g":"e","x":1.33,"y":0.85},{"g":"d","x":1.15,"y":1.1},{"g":"e","x":1.22,"y":1.1},{"g":"f","x":1.29,"y":1.1},{"g":"e","x":1.17,"y":1.35},{"g":"d","x":1.24,"y":1.35},{"g":"f","x":1.3,"y":1.35},{"g":"d","x":1.19,"y":1.6},{"g":"e","x":1.26,"y":1.6},{"g":"f","x":1.2,"y":1.85},{"g":"e","x":1.25,"y":1.85},{"g":"d","x":1.224,"y":2.2},{"g":"e","x":1.224,"y":2.5},{"g":"f","x":1.224,"y":2.9},{"g":"e","x":1.224,"y":3.1},{"g":"f","x":1.224,"y":3.5},{"g":"d","x":1.224,"y":3.7},
{"g":"b","x":1.68,"y":0.3},{"g":"b","x":1.75,"y":0.3},{"g":"c","x":1.82,"y":0.3},{"g":"b","x":1.6,"y":0.5},{"g":"b","x":1.67,"y":0.5},{"g":"c","x":1.74,"y":0.5},{"g":"b","x":1.81,"y":0.5},{"g":"c","x":1.88,"y":0.5},{"g":"b","x":1.95,"y":0.5},{"g":"c","x":1.58,"y":0.7},{"g":"b","x":1.65,"y":0.7},{"g":"b","x":1.72,"y":0.7},{"g":"a","x":1.79,"y":0.7},{"g":"b","x":1.86,"y":0.7},{"g":"c","x":1.93,"y":0.7},{"g":"b","x":1.98,"y":0.7},{"g":"c","x":1.66,"y":0.95},{"g":"b","x":1.73,"y":0.95},{"g":"c","x":1.8,"y":0.95},{"g":"b","x":1.87,"y":0.95},{"g":"a","x":1.7,"y":1.2},{"g":"c","x":1.77,"y":1.2},{"g":"b","x":1.84,"y":1.2},{"g":"c","x":1.72,"y":1.45},{"g":"b","x":1.79,"y":1.45},{"g":"c","x":1.75,"y":1.7},{"g":"b","x":1.8,"y":1.7},{"g":"c","x":1.776,"y":2},{"g":"a","x":1.776,"y":2.4},{"g":"c","x":1.776,"y":2.65},{"g":"c","x":1.776,"y":2.85},{"g":"c","x":1.776,"y":3.32},
{"g":"e","x":2.16,"y":0.2},{"g":"d","x":2.23,"y":0.2},{"g":"e","x":2.3,"y":0.2},{"g":"e","x":2.09,"y":0.4},{"g":"f","x":2.16,"y":0.4},{"g":"e","x":2.23,"y":0.4},{"g":"d","x":2.3,"y":0.4},{"g":"e","x":2.37,"y":0.4},{"g":"d","x":2.1,"y":0.6},{"g":"e","x":2.17,"y":0.6},{"g":"f","x":2.24,"y":0.6},{"g":"e","x":2.31,"y":0.6},{"g":"d","x":2.36,"y":0.6},{"g":"f","x":2.13,"y":0.85},{"g":"e","x":2.2,"y":0.85},{"g":"d","x":2.27,"y":0.85},{"g":"e","x":2.33,"y":0.85},{"g":"e","x":2.15,"y":1.1},{"g":"f","x":2.22,"y":1.1},{"g":"d","x":2.29,"y":1.1},{"g":"e","x":2.16,"y":1.4},{"g":"d","x":2.23,"y":1.4},{"g":"f","x":2.29,"y":1.4},{"g":"e","x":2.18,"y":1.7},{"g":"f","x":2.25,"y":1.7},{"g":"d","x":2.19,"y":2},{"g":"e","x":2.26,"y":2},{"g":"f","x":2.2,"y":2.3},{"g":"e","x":2.25,"y":2.3},{"g":"f","x":2.224,"y":2.7},{"g":"d","x":2.224,"y":3.1},{"g":"e","x":2.224,"y":3.3},{"g":"f","x":2.224,"y":3.7},{"g":"f","x":2.21,"y":4.1},{"g":"f","x":2.24,"y":4.1},{"g":"f","x":2.224,"y":5.25},{"g":"f","x":2.224,"y":5.35},{"g":"f","x":2.224,"y":5.5},
{"g":"b","x":2.65,"y":0.3},{"g":"c","x":2.72,"y":0.3},{"g":"b","x":2.79,"y":0.3},{"g":"b","x":2.86,"y":0.3},{"g":"c","x":2.92,"y":0.3},{"g":"b","x":2.66,"y":0.5},{"g":"c","x":2.73,"y":0.5},{"g":"a","x":2.8,"y":0.5},{"g":"b","x":2.87,"y":0.5},{"g":"c","x":2.7,"y":0.75},{"g":"b","x":2.77,"y":0.75},{"g":"c","x":2.84,"y":0.75},{"g":"b","x":2.9,"y":0.75},{"g":"b","x":2.72,"y":1},{"g":"a","x":2.79,"y":1},{"g":"c","x":2.84,"y":1},{"g":"b","x":2.74,"y":1.3},{"g":"c","x":2.81,"y":1.3},{"g":"c","x":2.76,"y":1.6},{"g":"b","x":2.8,"y":1.6},{"g":"c","x":2.776,"y":1.95},{"g":"c","x":2.776,"y":2.2},{"g":"b","x":2.776,"y":2.45},{"g":"b","x":2.776,"y":2.75},{"g":"c","x":2.776,"y":2.88},
{"g":"d","x":3.09,"y":0.3},{"g":"e","x":3.16,"y":0.3},{"g":"f","x":3.23,"y":0.3},{"g":"d","x":3.3,"y":0.3},{"g":"f","x":3.37,"y":0.3},{"g":"e","x":3.12,"y":0.5},{"g":"d","x":3.19,"y":0.5},{"g":"e","x":3.26,"y":0.5},{"g":"d","x":3.33,"y":0.5},{"g":"e","x":3.16,"y":0.8},{"g":"f","x":3.23,"y":0.8},{"g":"d","x":3.3,"y":0.8},{"g":"e","x":3.17,"y":1.1},{"g":"d","x":3.24,"y":1.1},{"g":"e","x":3.3,"y":1.1},{"g":"f","x":3.14,"y":1.4},{"g":"e","x":3.21,"y":1.4},{"g":"d","x":3.28,"y":1.4},{"g":"e","x":3.33,"y":1.4},{"g":"d","x":3.16,"y":1.7},{"g":"e","x":3.23,"y":1.7},{"g":"f","x":3.3,"y":1.7},{"g":"e","x":3.13,"y":2},{"g":"f","x":3.2,"y":2},{"g":"d","x":3.27,"y":2},{"g":"e","x":3.34,"y":2},{"g":"d","x":3.15,"y":2.3},{"g":"e","x":3.22,"y":2.3},{"g":"d","x":3.29,"y":2.3},{"g":"f","x":3.32,"y":2.3},{"g":"e","x":3.16,"y":2.6},{"g":"f","x":3.23,"y":2.6},{"g":"d","x":3.31,"y":2.6},{"g":"d","x":3.14,"y":2.9},{"g":"e","x":3.21,"y":2.9},{"g":"f","x":3.28,"y":2.9},{"g":"e","x":3.13,"y":3.2},{"g":"d","x":3.2,"y":3.2},{"g":"f","x":3.27,"y":3.2},{"g":"e","x":3.33,"y":3.2},{"g":"d","x":3.17,"y":3.5},{"g":"e","x":3.24,"y":3.5},{"g":"d","x":3.3,"y":3.5},{"g":"f","x":3.19,"y":3.8},{"g":"e","x":3.26,"y":3.8},{"g":"d","x":3.18,"y":4.1},{"g":"e","x":3.25,"y":4.1},{"g":"f","x":3.2,"y":4.4},{"g":"e","x":3.26,"y":4.4},{"g":"e","x":3.17,"y":4.7},{"g":"f","x":3.23,"y":4.7},{"g":"d","x":3.29,"y":4.7},{"g":"d","x":3.16,"y":5},{"g":"e","x":3.23,"y":5},{"g":"f","x":3.29,"y":5},{"g":"e","x":3.2,"y":5.1},{"g":"d","x":3.25,"y":5.1},
{"g":"b","x":3.7,"y":0.25},{"g":"c","x":3.77,"y":0.25},{"g":"b","x":3.84,"y":0.25},{"g":"c","x":3.64,"y":0.45},{"g":"b","x":3.71,"y":0.45},{"g":"a","x":3.78,"y":0.45},{"g":"c","x":3.85,"y":0.45},{"g":"b","x":3.92,"y":0.45},{"g":"b","x":3.63,"y":0.7},{"g":"c","x":3.7,"y":0.7},{"g":"b","x":3.77,"y":0.7},{"g":"c","x":3.84,"y":0.7},{"g":"a","x":3.91,"y":0.7},{"g":"c","x":3.68,"y":0.95},{"g":"b","x":3.75,"y":0.95},{"g":"a","x":3.82,"y":0.95},{"g":"c","x":3.87,"y":0.95},{"g":"b","x":3.71,"y":1.2},{"g":"c","x":3.78,"y":1.2},{"g":"b","x":3.84,"y":1.2},{"g":"a","x":3.72,"y":1.45},{"g":"c","x":3.79,"y":1.45},{"g":"b","x":3.83,"y":1.45},{"g":"b","x":3.74,"y":1.7},{"g":"a","x":3.81,"y":1.7},{"g":"c","x":3.75,"y":2},{"g":"b","x":3.8,"y":2},{"g":"b","x":3.776,"y":2.3},{"g":"c","x":3.776,"y":2.6},{"g":"b","x":3.76,"y":2.85},{"g":"a","x":3.79,"y":2.85},{"g":"a","x":3.776,"y":4.42},{"g":"a","x":3.776,"y":5.08},
{"g":"f","x":4.18,"y":0.2},{"g":"d","x":4.25,"y":0.2},{"g":"f","x":4.11,"y":0.4},{"g":"e","x":4.18,"y":0.4},{"g":"d","x":4.25,"y":0.4},{"g":"e","x":4.32,"y":0.4},{"g":"f","x":4.07,"y":0.65},{"g":"d","x":4.14,"y":0.65},{"g":"f","x":4.21,"y":0.65},{"g":"d","x":4.28,"y":0.65},{"g":"f","x":4.35,"y":0.65},{"g":"e","x":4.14,"y":0.9},{"g":"d","x":4.21,"y":0.9},{"g":"e","x":4.28,"y":0.9},{"g":"d","x":4.15,"y":1.2},{"g":"e","x":4.22,"y":1.2},{"g":"f","x":4.29,"y":1.2},{"g":"d","x":4.13,"y":1.5},{"g":"e","x":4.2,"y":1.5},{"g":"d","x":4.27,"y":1.5},{"g":"e","x":4.33,"y":1.5},{"g":"f","x":4.17,"y":1.8},{"g":"e","x":4.24,"y":1.8},{"g":"d","x":4.3,"y":1.8},{"g":"e","x":4.15,"y":2.1},{"g":"d","x":4.22,"y":2.1},{"g":"f","x":4.29,"y":2.1},{"g":"d","x":4.12,"y":2.4},{"g":"e","x":4.19,"y":2.4},{"g":"f","x":4.26,"y":2.4},{"g":"d","x":4.33,"y":2.4},{"g":"e","x":4.17,"y":2.7},{"g":"d","x":4.24,"y":2.7},{"g":"e","x":4.3,"y":2.7},{"g":"d","x":4.14,"y":3},{"g":"f","x":4.21,"y":3},{"g":"e","x":4.28,"y":3},{"g":"e","x":4.12,"y":3.3},{"g":"d","x":4.19,"y":3.3},{"g":"e","x":4.26,"y":3.3},{"g":"d","x":4.33,"y":3.3},{"g":"f","x":4.2,"y":3.6},{"g":"e","x":4.25,"y":3.6},{"g":"f","x":4.21,"y":3.9},{"g":"e","x":4.24,"y":3.9},{"g":"f","x":4.2,"y":4.3},{"g":"d","x":4.24,"y":4.3},{"g":"f","x":4.224,"y":4.6},{"g":"e","x":4.21,"y":4.9},{"g":"f","x":4.224,"y":5.1},{"g":"f","x":4.224,"y":5.35},{"g":"f","x":4.224,"y":5.9},{"g":"f","x":4.224,"y":6},{"g":"f","x":4.224,"y":6.25},{"g":"f","x":4.224,"y":6.45},
{"g":"b","x":4.71,"y":0.3},{"g":"c","x":4.78,"y":0.3},{"g":"b","x":4.85,"y":0.3},{"g":"c","x":4.65,"y":0.5},{"g":"b","x":4.72,"y":0.5},{"g":"b","x":4.79,"y":0.5},{"g":"c","x":4.86,"y":0.5},{"g":"b","x":4.93,"y":0.5},{"g":"b","x":4.62,"y":0.75},{"g":"c","x":4.69,"y":0.75},{"g":"a","x":4.76,"y":0.75},{"g":"b","x":4.83,"y":0.75},{"g":"c","x":4.9,"y":0.75},{"g":"b","x":4.96,"y":0.75},{"g":"c","x":4.67,"y":1},{"g":"b","x":4.74,"y":1},{"g":"c","x":4.81,"y":1},{"g":"b","x":4.88,"y":1},{"g":"b","x":4.7,"y":1.25},{"g":"c","x":4.77,"y":1.25},{"g":"b","x":4.84,"y":1.25},{"g":"c","x":4.73,"y":1.55},{"g":"b","x":4.8,"y":1.55},{"g":"b","x":4.75,"y":1.85},{"g":"c","x":4.81,"y":1.85},{"g":"c","x":4.78,"y":2.1},{"g":"b","x":4.76,"y":2.4},{"g":"c","x":4.8,"y":2.4},{"g":"c","x":4.76,"y":2.75},{"g":"b","x":4.8,"y":2.75},{"g":"b","x":4.781,"y":3.15},{"g":"c","x":4.781,"y":3.5},{"g":"c","x":4.781,"y":3.65},
{"g":"f","x":5.12,"y":0.3},{"g":"d","x":5.19,"y":0.3},{"g":"e","x":5.26,"y":0.3},{"g":"f","x":5.33,"y":0.3},{"g":"e","x":5.08,"y":0.5},{"g":"f","x":5.15,"y":0.5},{"g":"e","x":5.22,"y":0.5},{"g":"d","x":5.29,"y":0.5},{"g":"e","x":5.36,"y":0.5},{"g":"f","x":5.4,"y":0.5},{"g":"d","x":5.1,"y":0.75},{"g":"e","x":5.17,"y":0.75},{"g":"f","x":5.24,"y":0.75},{"g":"e","x":5.31,"y":0.75},{"g":"d","x":5.37,"y":0.75},{"g":"e","x":5.13,"y":1},{"g":"d","x":5.2,"y":1},{"g":"e","x":5.27,"y":1},{"g":"f","x":5.34,"y":1},{"g":"f","x":5.1,"y":1.3},{"g":"e","x":5.17,"y":1.3},{"g":"d","x":5.24,"y":1.3},{"g":"e","x":5.31,"y":1.3},{"g":"d","x":5.38,"y":1.3},{"g":"e","x":5.12,"y":1.6},{"g":"d","x":5.19,"y":1.6},{"g":"e","x":5.26,"y":1.6},{"g":"d","x":5.33,"y":1.6},{"g":"f","x":5.14,"y":1.9},{"g":"e","x":5.21,"y":1.9},{"g":"d","x":5.28,"y":1.9},{"g":"e","x":5.16,"y":2.2},{"g":"f","x":5.23,"y":2.2},{"g":"e","x":5.29,"y":2.2},{"g":"d","x":5.17,"y":2.5},{"g":"e","x":5.24,"y":2.5},{"g":"d","x":5.29,"y":2.5},{"g":"e","x":5.19,"y":2.8},{"g":"f","x":5.25,"y":2.8},{"g":"f","x":5.18,"y":3.1},{"g":"e","x":5.25,"y":3.1},{"g":"d","x":5.28,"y":3.1},{"g":"e","x":5.229,"y":3.4},{"g":"f","x":5.22,"y":3.7},{"g":"f","x":5.229,"y":4.1},{"g":"f","x":5.229,"y":4.35},{"g":"f","x":5.229,"y":4.55},{"g":"e","x":5.21,"y":5.1},{"g":"f","x":5.24,"y":5.1}],
"lgbox":[{"x":1.25,"y":3.84,"g":"a","t":"c"},{"x":1.25,"y":4.83,"g":"b","t":"c"},{"x":1.25,"y":5.83,"g":"c","t":"c"},{"x":1.25,"y":8.76,"g":"d","t":"m"},{"x":1.25,"y":9.79,"g":"e","t":"m"},{"x":1.25,"y":10.79,"g":"f","t":"m"}],
"lgtxt":[{"x":2.4,"y":3.84,"text":"worm 1"},{"x":2.4,"y":4.83,"text":"worm 2"},{"x":2.4,"y":5.83,"text":"worm 3"},{"x":2.4,"y":8.76,"text":"worm 1"},{"x":2.4,"y":9.79,"text":"worm 2"},{"x":2.4,"y":10.79,"text":"worm 3"}],
"lghn":[{"x":0.13,"y":2.83,"text":"Control RNAi"},{"x":2.76,"y":7.72,"text":"RNAi"}],"lghi":[{"x":0.3,"y":7.72,"text":"mex-6"}],
"lgu":[{"x":0.13,"x2":4.87,"y":3.2},{"x":0.3,"x2":4.7,"y":8.1}],
"cells":[{"x":1,"x2":2,"y":1,"y2":2,"k":"n"},{"x":2,"x2":3,"y":1,"y2":2,"k":"n"},{"x":3,"x2":4,"y":1,"y2":2,"k":"n"},{"x":4,"x2":5,"y":1,"y2":2,"k":"n"},{"x":1,"x2":2,"y":2,"y2":3,"k":"n"},{"x":2,"x2":3,"y":2,"y2":3,"k":"n"},{"x":3,"x2":4,"y":2,"y2":3,"k":"n"},{"x":4,"x2":5,"y":2,"y2":3,"k":"n"},{"x":1,"x2":2,"y":3,"y2":4,"k":"n"},{"x":2,"x2":3,"y":3,"y2":4,"k":"n"},{"x":3,"x2":4,"y":3,"y2":4,"k":"n"},{"x":4,"x2":5,"y":3,"y2":4,"k":"n"},{"x":0,"x2":1,"y":0,"y2":1,"k":"h"},{"x":1,"x2":2,"y":0,"y2":1,"k":"h"},{"x":2,"x2":3,"y":0,"y2":1,"k":"h"},{"x":3,"x2":4,"y":0,"y2":1,"k":"h"},{"x":4,"x2":5,"y":0,"y2":1,"k":"h"},{"x":0,"x2":1,"y":1,"y2":2,"k":"h"},{"x":0,"x2":1,"y":2,"y2":3,"k":"h"},{"x":0,"x2":1,"y":3,"y2":4,"k":"h"}],
"t1h":[{"x":1,"y":0.5,"text":"WT F1 (control RNAi)"},{"x":2,"y":0.5,"text":"WT F1 (mex-6 RNAi)"},{"x":3,"y":0.5,"text":"hrde-1 F1 (control RNAi)"},{"x":4,"y":0.5,"text":"hrde-1 F1 (mex-6 RNAi)"},{"x":0,"y":1.5,"text":"slope"},{"x":0,"y":2.5,"text":"intercept"},{"x":0,"y":3.5,"text":"R2"}],
"t2h":[{"x":1,"y":0.5,"text":"znfx-1 F1 (control RNAi)"},{"x":2,"y":0.5,"text":"znfx-1 F1 (mex-6 RNAi)"},{"x":3,"y":0.5,"text":"znfx-1; hrde-1 F1 (control RNAi)"},{"x":4,"y":0.5,"text":"znfx-1; hrde-1 F1 (mex-6 RNAi)"},{"x":0,"y":1.5,"text":"slope"},{"x":0,"y":2.5,"text":"intercept"},{"x":0,"y":3.5,"text":"R2"}],
"t1n":[{"x":2,"y":1.5,"text":"0.94"},{"x":3,"y":1.5,"text":"0.97"},{"x":4,"y":1.5,"text":"0.98"},{"x":5,"y":1.5,"text":"0.99"},{"x":2,"y":2.5,"text":"0.2"},{"x":3,"y":2.5,"text":"0.05"},{"x":4,"y":2.5,"text":"0.04"},{"x":5,"y":2.5,"text":"-0.02"},{"x":2,"y":3.5,"text":"0.96"},{"x":3,"y":3.5,"text":"0.96"},{"x":4,"y":3.5,"text":"0.96"},{"x":5,"y":3.5,"text":"0.96"}],
"t2n":[{"x":2,"y":1.5,"text":"0.97"},{"x":3,"y":1.5,"text":"0.98"},{"x":4,"y":1.5,"text":"1"},{"x":5,"y":1.5,"text":"0.99"},{"x":2,"y":2.5,"text":"0.09"},{"x":3,"y":2.5,"text":"0"},{"x":4,"y":2.5,"text":"-0.06"},{"x":5,"y":2.5,"text":"0"},{"x":2,"y":3.5,"text":"0.96"},{"x":3,"y":3.5,"text":"0.96"},{"x":4,"y":3.5,"text":"0.96"},{"x":5,"y":3.5,"text":"0.96"}]
},
"spacing":0,"bounds":"full",
"vconcat":[
{"spacing":0,"bounds":"flush","hconcat":[
{"width":46,"height":10,"data":{"name":"sp"},"mark":{"type":"rule","opacity":0},"encoding":{}},
{"width":165,"height":165,"view":{"fill":"#E5E5E5"},"encoding":{"x":{"field":"x","type":"quantitative","scale":{"domain":[-6.41,15.36],"nice":false,"zero":false},"axis":{"values":[-5,0,5,10,15],"title":null}},"y":{"field":"y","type":"quantitative","scale":{"domain":[-6.3,15.64],"nice":false,"zero":false},"axis":{"values":[-5,0,5,10,15],"title":null}}},"layer":[
{"data":{"name":"mx"},"mark":{"type":"rule","color":"white","strokeWidth":0.5},"encoding":{"y":null}},{"data":{"name":"my"},"mark":{"type":"rule","color":"white","strokeWidth":0.5},"encoding":{"x":null}},
{"data":{"name":"A1"},"mark":{"type":"point","filled":true,"color":"black","opacity":1,"size":42,"clip":true}},
{"data":{"name":"A1f"},"mark":{"type":"line","color":"#D8283C","strokeWidth":1.4,"clip":true}},
{"data":{"name":"A1n"},"mark":{"type":"text","fontSize":12,"color":"black"},"encoding":{"text":{"field":"text"}}},
{"data":{"name":"A1t"},"transform":[{"filter":"datum.s=='n'"}],"mark":{"type":"text","fontSize":11.7,"color":"black","align":"left","baseline":"middle"},"encoding":{"text":{"field":"text"},"angle":{"field":"a","type":"nominal","scale":{"domain":["x","y"],"range":[0,270]},"legend":null}}},
{"data":{"name":"A1t"},"transform":[{"filter":"datum.s=='i'"}],"mark":{"type":"text","fontSize":11.7,"fontStyle":"italic","color":"black","align":"left","baseline":"middle"},"encoding":{"text":{"field":"text"},"angle":{"field":"a","type":"nominal","scale":{"domain":["x","y"],"range":[0,270]},"legend":null}}},
{"data":{"name":"LA"},"mark":{"type":"text","fontSize":19,"fontWeight":"bold","color":"black","align":"left","baseline":"alphabetic"},"encoding":{"text":{"field":"text"}}}]},
{"width":56,"height":10,"data":{"name":"sp"},"mark":{"type":"rule","opacity":0},"encoding":{}},
{"width":165,"height":165,"view":{"fill":"#E5E5E5"},"encoding":{"x":{"field":"x","type":"quantitative","scale":{"domain":[-6.17,15.35],"nice":false,"zero":false},"axis":{"values":[-5,0,5,10,15],"title":null}},"y":{"field":"y","type":"quantitative","scale":{"domain":[-6.18,15.97],"nice":false,"zero":false},"axis":{"values":[-5,0,5,10,15],"title":null}}},"layer":[
{"data":{"name":"mx"},"mark":{"type":"rule","color":"white","strokeWidth":0.5},"encoding":{"y":null}},{"data":{"name":"my"},"mark":{"type":"rule","color":"white","strokeWidth":0.5},"encoding":{"x":null}},
{"data":{"name":"A2"},"mark":{"type":"point","filled":true,"color":"black","opacity":1,"size":42,"clip":true}},
{"data":{"name":"A2f"},"mark":{"type":"line","color":"#D8283C","strokeWidth":1.4,"clip":true}},
{"data":{"name":"A2n"},"mark":{"type":"text","fontSize":12,"color":"black"},"encoding":{"text":{"field":"text"}}},
{"data":{"name":"A2t"},"transform":[{"filter":"datum.s=='n'"}],"mark":{"type":"text","fontSize":11.7,"color":"black","align":"left","baseline":"middle"},"encoding":{"text":{"field":"text"},"angle":{"field":"a","type":"nominal","scale":{"domain":["x","y"],"range":[0,270]},"legend":null}}},
{"data":{"name":"A2t"},"transform":[{"filter":"datum.s=='i'"}],"mark":{"type":"text","fontSize":11.7,"fontStyle":"italic","color":"black","align":"left","baseline":"middle"},"encoding":{"text":{"field":"text"},"angle":{"field":"a","type":"nominal","scale":{"domain":["x","y"],"range":[0,270]},"legend":null}}}]},
{"width":64,"height":10,"data":{"name":"sp"},"mark":{"type":"rule","opacity":0},"encoding":{}},
{"width":166,"height":165,"view":{"fill":"#E5E5E5"},"encoding":{"x":{"field":"x","type":"quantitative","scale":{"domain":[-6.4,15.39],"nice":false,"zero":false},"axis":{"values":[-5,0,5,10,15],"title":null}},"y":{"field":"y","type":"quantitative","scale":{"domain":[-6.57,15.98],"nice":false,"zero":false},"axis":{"values":[-5,0,5,10,15],"title":null}}},"layer":[
{"data":{"name":"mx"},"mark":{"type":"rule","color":"white","strokeWidth":0.5},"encoding":{"y":null}},{"data":{"name":"my"},"mark":{"type":"rule","color":"white","strokeWidth":0.5},"encoding":{"x":null}},
{"data":{"name":"A3"},"mark":{"type":"point","filled":true,"color":"black","opacity":1,"size":42,"clip":true}},
{"data":{"name":"A3f"},"mark":{"type":"line","color":"#D8283C","strokeWidth":1.4,"clip":true}},
{"data":{"name":"A3n"},"mark":{"type":"text","fontSize":12,"color":"black"},"encoding":{"text":{"field":"text"}}},
{"data":{"name":"A3t"},"transform":[{"filter":"datum.s=='n'"}],"mark":{"type":"text","fontSize":11.7,"color":"black","align":"left","baseline":"middle"},"encoding":{"text":{"field":"text"},"angle":{"field":"a","type":"nominal","scale":{"domain":["x","y"],"range":[0,270]},"legend":null}}},
{"data":{"name":"A3t"},"transform":[{"filter":"datum.s=='i'"}],"mark":{"type":"text","fontSize":11.7,"fontStyle":"italic","color":"black","align":"left","baseline":"middle"},"encoding":{"text":{"field":"text"},"angle":{"field":"a","type":"nominal","scale":{"domain":["x","y"],"range":[0,270]},"legend":null}}}]}
]},
{"width":10,"height":17.5,"data":{"name":"sp"},"mark":{"type":"rule","opacity":0},"encoding":{}},
{"spacing":0,"bounds":"flush","hconcat":[
{"width":40,"height":10,"data":{"name":"sp"},"mark":{"type":"rule","opacity":0},"encoding":{}},
{"width":175,"height":172.5,"view":{"fill":"#E5E5E5"},"encoding":{"x":{"field":"x","type":"quantitative","scale":{"domain":[-6.24,15.41],"nice":false,"zero":false},"axis":{"values":[-5,0,5,10,15],"title":null}},"y":{"field":"y","type":"quantitative","scale":{"domain":[-6.15,15.34],"nice":false,"zero":false},"axis":{"values":[-5,0,5,10,15],"title":null}}},"layer":[
{"data":{"name":"mx"},"mark":{"type":"rule","color":"white","strokeWidth":0.5},"encoding":{"y":null}},{"data":{"name":"my"},"mark":{"type":"rule","color":"white","strokeWidth":0.5},"encoding":{"x":null}},
{"data":{"name":"B1"},"mark":{"type":"point","filled":true,"color":"black","opacity":1,"size":52,"clip":true}},
{"data":{"name":"B1f"},"mark":{"type":"line","color":"#D8283C","strokeWidth":1.4,"clip":true}},
{"data":{"name":"B1h"},"mark":{"type":"point","filled":true,"color":"#EE1133","opacity":1,"size":40}},
{"data":{"name":"B1n"},"mark":{"type":"text","fontSize":12,"color":"black"},"encoding":{"text":{"field":"text"}}},
{"data":{"name":"B1t"},"transform":[{"filter":"datum.s=='n'"}],"mark":{"type":"text","fontSize":11.7,"color":"black","align":"left","baseline":"middle"},"encoding":{"text":{"field":"text"},"angle":{"field":"a","type":"nominal","scale":{"domain":["x","y"],"range":[0,270]},"legend":null}}},
{"data":{"name":"LB"},"mark":{"type":"text","fontSize":19,"fontWeight":"bold","color":"black","align":"left","baseline":"alphabetic"},"encoding":{"text":{"field":"text"}}}]},
{"width":49,"height":10,"data":{"name":"sp"},"mark":{"type":"rule","opacity":0},"encoding":{}},
{"width":173,"height":172.5,"view":{"fill":"#E5E5E5"},"encoding":{"x":{"field":"x","type":"quantitative","scale":{"domain":[-6.4,15.6],"nice":false,"zero":false},"axis":{"values":[-5,0,5,10,15],"title":null}},"y":{"field":"y","type":"quantitative","scale":{"domain":[-6.38,15.68],"nice":false,"zero":false},"axis":{"values":[-5,0,5,10,15],"title":null}}},"layer":[
{"data":{"name":"mx"},"mark":{"type":"rule","color":"white","strokeWidth":0.5},"encoding":{"y":null}},{"data":{"name":"my"},"mark":{"type":"rule","color":"white","strokeWidth":0.5},"encoding":{"x":null}},
{"data":{"name":"B2"},"mark":{"type":"point","filled":true,"color":"black","opacity":1,"size":52,"clip":true}},
{"data":{"name":"B2f"},"mark":{"type":"line","color":"#D8283C","strokeWidth":1.4,"clip":true}},
{"data":{"name":"B2h"},"mark":{"type":"point","filled":true,"color":"#EE1133","opacity":1,"size":40}},
{"data":{"name":"B2n"},"mark":{"type":"text","fontSize":12,"color":"black"},"encoding":{"text":{"field":"text"}}},
{"data":{"name":"B2t"},"transform":[{"filter":"datum.s=='n'"}],"mark":{"type":"text","fontSize":11.7,"color":"black","align":"left","baseline":"middle"},"encoding":{"text":{"field":"text"},"angle":{"field":"a","type":"nominal","scale":{"domain":["x","y"],"range":[0,270]},"legend":null}}},
{"data":{"name":"B2t"},"transform":[{"filter":"datum.s=='i'"}],"mark":{"type":"text","fontSize":11.7,"fontStyle":"italic","color":"black","align":"left","baseline":"middle"},"encoding":{"text":{"field":"text"},"angle":{"field":"a","type":"nominal","scale":{"domain":["x","y"],"range":[0,270]},"legend":null}}}]},
{"width":57,"height":10,"data":{"name":"sp"},"mark":{"type":"rule","opacity":0},"encoding":{}},
{"width":173,"height":172.5,"view":{"fill":"#E5E5E5"},"encoding":{"x":{"field":"x","type":"quantitative","scale":{"domain":[-6.38,15.86],"nice":false,"zero":false},"axis":{"values":[-5,0,5,10,15],"title":null}},"y":{"field":"y","type":"quantitative","scale":{"domain":[-5.99,15.93],"nice":false,"zero":false},"axis":{"values":[-5,0,5,10,15],"title":null}}},"layer":[
{"data":{"name":"mx"},"mark":{"type":"rule","color":"white","strokeWidth":0.5},"encoding":{"y":null}},{"data":{"name":"my"},"mark":{"type":"rule","color":"white","strokeWidth":0.5},"encoding":{"x":null}},
{"data":{"name":"B3"},"mark":{"type":"point","filled":true,"color":"black","opacity":1,"size":52,"clip":true}},
{"data":{"name":"B3f"},"mark":{"type":"line","color":"#D8283C","strokeWidth":1.4,"clip":true}},
{"data":{"name":"B3h"},"mark":{"type":"point","filled":true,"color":"#EE1133","opacity":1,"size":40}},
{"data":{"name":"B3n"},"mark":{"type":"text","fontSize":12,"color":"black"},"encoding":{"text":{"field":"text"}}},
{"data":{"name":"B3t"},"transform":[{"filter":"datum.s=='n'"}],"mark":{"type":"text","fontSize":11.7,"color":"black","align":"left","baseline":"middle"},"encoding":{"text":{"field":"text"},"angle":{"field":"a","type":"nominal","scale":{"domain":["x","y"],"range":[0,270]},"legend":null}}},
{"data":{"name":"B3t"},"transform":[{"filter":"datum.s=='i'"}],"mark":{"type":"text","fontSize":11.7,"fontStyle":"italic","color":"black","align":"left","baseline":"middle"},"encoding":{"text":{"field":"text"},"angle":{"field":"a","type":"nominal","scale":{"domain":["x","y"],"range":[0,270]},"legend":null}}}]}
]},
{"width":10,"height":15.8,"data":{"name":"sp"},"mark":{"type":"rule","opacity":0},"encoding":{}},
{"spacing":0,"bounds":"flush","hconcat":[
{"width":43,"height":10,"data":{"name":"sp"},"mark":{"type":"rule","opacity":0},"encoding":{}},
{"width":174,"height":172.3,"view":{"fill":"#E5E5E5"},"encoding":{"x":{"field":"x","type":"quantitative","scale":{"domain":[-6.79,15.91],"nice":false,"zero":false},"axis":{"values":[-5,0,5,10,15],"title":null}},"y":{"field":"y","type":"quantitative","scale":{"domain":[-6.2,15.94],"nice":false,"zero":false},"axis":{"values":[-5,0,5,10,15],"title":null}}},"layer":[
{"data":{"name":"mx"},"mark":{"type":"rule","color":"white","strokeWidth":0.5},"encoding":{"y":null}},{"data":{"name":"my"},"mark":{"type":"rule","color":"white","strokeWidth":0.5},"encoding":{"x":null}},
{"data":{"name":"B4"},"mark":{"type":"point","filled":true,"color":"black","opacity":1,"size":52,"clip":true}},
{"data":{"name":"B4f"},"mark":{"type":"line","color":"#D8283C","strokeWidth":1.4,"clip":true}},
{"data":{"name":"B4h"},"mark":{"type":"point","filled":true,"color":"#EE1133","opacity":1,"size":40}},
{"data":{"name":"B4n"},"mark":{"type":"text","fontSize":12,"color":"black"},"encoding":{"text":{"field":"text"}}},
{"data":{"name":"B4t"},"transform":[{"filter":"datum.s=='n'"}],"mark":{"type":"text","fontSize":11.7,"color":"black","align":"left","baseline":"middle"},"encoding":{"text":{"field":"text"},"angle":{"field":"a","type":"nominal","scale":{"domain":["x","y"],"range":[0,270]},"legend":null}}},
{"data":{"name":"B4t"},"transform":[{"filter":"datum.s=='i'"}],"mark":{"type":"text","fontSize":11.7,"fontStyle":"italic","color":"black","align":"left","baseline":"middle"},"encoding":{"text":{"field":"text"},"angle":{"field":"a","type":"nominal","scale":{"domain":["x","y"],"range":[0,270]},"legend":null}}}]},
{"width":46,"height":10,"data":{"name":"sp"},"mark":{"type":"rule","opacity":0},"encoding":{}},
{"width":365,"height":200,"encoding":{"x":{"field":"x","type":"quantitative","scale":{"domain":[0.4,5.614],"nice":false,"zero":false},"axis":{"values":[1,2,3,4,5],"title":null,"grid":false,"labelExpr":"['','2hr','4hr','6hr','8hr','24hr'][datum.value]","labelFontSize":7.5,"labelFontWeight":"bold","labelColor":"#333333","tickSize":3}},"y":{"field":"y","type":"quantitative","scale":{"domain":[-1.854,8.957],"nice":false,"zero":false},"axis":{"values":[0,2,4,6,8],"title":null,"grid":false,"labelFontSize":7.5,"labelFontWeight":"bold","labelColor":"#333333","tickSize":3}}},"layer":[
{"data":{"name":"dbg"},"mark":{"type":"rect","color":"#E8E8E8"},"encoding":{"x2":{"field":"x2"},"y2":{"field":"y2"}}},
{"data":{"name":"dmin"},"mark":{"type":"rule","color":"white","strokeWidth":0.5},"encoding":{"x":null}},
{"data":{"name":"dmaj"},"mark":{"type":"rule","color":"white","strokeWidth":1.1},"encoding":{"x":null}},
{"data":{"name":"dvg"},"mark":{"type":"rule","color":"white","strokeWidth":1.1},"encoding":{"y2":{"field":"y2"}}},
{"data":{"name":"vio"},"transform":[{"filter":"datum.t=='c'"}],"mark":{"type":"area","orient":"horizontal","fill":"#F4B0A8","fillOpacity":0.15,"stroke":"#E8786E","strokeWidth":1},"encoding":{"x2":{"field":"x2"},"detail":{"field":"v"}}},
{"data":{"name":"vio"},"transform":[{"filter":"datum.t=='m'"}],"mark":{"type":"area","orient":"horizontal","fill":"#30B8BC","fillOpacity":0.35,"stroke":"#30B8BC","strokeWidth":1.2},"encoding":{"x2":{"field":"x2"},"detail":{"field":"v"}}},
{"data":{"name":"swarm"},"mark":{"type":"point","filled":true,"opacity":1,"size":18,"stroke":"#243A3A","strokeWidth":0.6},"encoding":{"fill":{"field":"g","type":"nominal","scale":{"domain":["a","b","c","d","e","f"],"range":["#D0606A","#A8A020","#2EA84E","#1EA8A0","#5A80D8","#D060D8"]},"legend":null}}},
{"data":{"name":"whisk"},"mark":{"type":"rule","color":"black","strokeWidth":1.2},"encoding":{"y2":{"field":"y2"}}},
{"data":{"name":"mean"},"mark":{"type":"point","filled":true,"color":"black","opacity":1,"size":42}},
{"data":{"name":"dT"},"transform":[{"filter":"datum.s=='n'"}],"mark":{"type":"text","fontSize":10.3,"fontWeight":"bold","color":"#222222","align":"left","baseline":"middle"},"encoding":{"text":{"field":"text"}}},
{"data":{"name":"dT"},"transform":[{"filter":"datum.s=='i'"}],"mark":{"type":"text","fontSize":10.3,"fontWeight":"bold","fontStyle":"italic","color":"#222222","align":"left","baseline":"middle"},"encoding":{"text":{"field":"text"}}},
{"data":{"name":"dY"},"transform":[{"filter":"datum.s=='n'"}],"mark":{"type":"text","fontSize":8.1,"fontWeight":"bold","color":"#222222","align":"left","baseline":"middle","angle":270},"encoding":{"text":{"field":"text"}}},
{"data":{"name":"dY"},"transform":[{"filter":"datum.s=='i'"}],"mark":{"type":"text","fontSize":8.1,"fontWeight":"bold","fontStyle":"italic","color":"#222222","align":"left","baseline":"middle","angle":270},"encoding":{"text":{"field":"text"}}},
{"data":{"name":"LD"},"mark":{"type":"text","fontSize":19,"fontWeight":"bold","color":"black","align":"left","baseline":"alphabetic"},"encoding":{"text":{"field":"text"}}}]},
{"width":5,"height":10,"data":{"name":"sp"},"mark":{"type":"rule","opacity":0},"encoding":{}},
{"width":50,"height":200,"encoding":{"x":{"field":"x","type":"quantitative","scale":{"domain":[0,5],"nice":false,"zero":false},"axis":null},"y":{"field":"y","type":"quantitative","scale":{"domain":[0,13.79],"nice":false,"zero":false,"reverse":true},"axis":null}},"layer":[
{"data":{"name":"lgbox"},"transform":[{"filter":"datum.t=='c'"}],"mark":{"type":"point","shape":"square","size":175,"fill":"#EFEFEF","filled":true,"opacity":1,"stroke":"#EC8C80","strokeWidth":1.5}},
{"data":{"name":"lgbox"},"transform":[{"filter":"datum.t=='m'"}],"mark":{"type":"point","shape":"square","size":175,"fill":"#EFEFEF","filled":true,"opacity":1,"stroke":"#40BFC0","strokeWidth":1.5}},
{"data":{"name":"lgbox"},"mark":{"type":"point","filled":true,"opacity":1,"size":12,"stroke":"#243A3A","strokeWidth":0.4},"encoding":{"fill":{"field":"g","type":"nominal","scale":{"domain":["a","b","c","d","e","f"],"range":["#D0606A","#A8A020","#2EA84E","#1EA8A0","#5A80D8","#D060D8"]},"legend":null}}},
{"data":{"name":"lgtxt"},"mark":{"type":"text","fontSize":7.3,"fontWeight":"bold","color":"#222222","align":"left","baseline":"middle"},"encoding":{"text":{"field":"text"}}},
{"data":{"name":"lghn"},"mark":{"type":"text","fontSize":7.5,"fontWeight":"bold","color":"#222222","align":"left","baseline":"middle"},"encoding":{"text":{"field":"text"}}},
{"data":{"name":"lghi"},"mark":{"type":"text","fontSize":7.5,"fontWeight":"bold","fontStyle":"italic","color":"#222222","align":"left","baseline":"middle"},"encoding":{"text":{"field":"text"}}},
{"data":{"name":"lgu"},"mark":{"type":"rule","color":"#222222","strokeWidth":0.7},"encoding":{"x2":{"field":"x2"}}}]}
]},
{"width":10,"height":12.4,"data":{"name":"sp"},"mark":{"type":"rule","opacity":0},"encoding":{}},
{"spacing":0,"bounds":"flush","hconcat":[
{"width":35.7,"height":10,"data":{"name":"sp"},"mark":{"type":"rule","opacity":0},"encoding":{}},
{"width":587.6,"height":56.6,"encoding":{"x":{"field":"x","type":"quantitative","scale":{"domain":[0,1,2,3,4,5],"range":[0,58,173.3,287,437.6,587.6],"zero":false,"nice":false},"axis":null},"y":{"field":"y","type":"quantitative","scale":{"domain":[0,4],"range":[0,56.6],"zero":false,"nice":false},"axis":null}},"layer":[
{"data":{"name":"cells"},"transform":[{"filter":"datum.k=='n'"}],"mark":{"type":"rect","fill":"white","stroke":"#DADADA","strokeWidth":0.8},"encoding":{"x2":{"field":"x2"},"y2":{"field":"y2"}}},
{"data":{"name":"cells"},"transform":[{"filter":"datum.k=='h'"}],"mark":{"type":"rect","fill":"#F1F1F1","stroke":"#ABABAB","strokeWidth":0.9},"encoding":{"x2":{"field":"x2"},"y2":{"field":"y2"}}},
{"data":{"name":"t1h"},"mark":{"type":"text","fontSize":9.3,"fontWeight":"bold","color":"#ED7D31","align":"left","baseline":"middle","dx":2},"encoding":{"text":{"field":"text"}}},
{"data":{"name":"t1n"},"mark":{"type":"text","fontSize":9.6,"color":"#333333","align":"right","baseline":"middle","dx":-2},"encoding":{"text":{"field":"text"}}},
{"data":{"name":"LC"},"mark":{"type":"text","fontSize":19,"fontWeight":"bold","color":"black","align":"left","baseline":"alphabetic"},"encoding":{"text":{"field":"text"}}}]}
]},
{"width":10,"height":19.8,"data":{"name":"sp"},"mark":{"type":"rule","opacity":0},"encoding":{}},
{"spacing":0,"bounds":"flush","hconcat":[
{"width":34.3,"height":10,"data":{"name":"sp"},"mark":{"type":"rule","opacity":0},"encoding":{}},
{"width":587.4,"height":56.6,"encoding":{"x":{"field":"x","type":"quantitative","scale":{"domain":[0,1,2,3,4,5],"range":[0,58.4,174,287.4,438,587.4],"zero":false,"nice":false},"axis":null},"y":{"field":"y","type":"quantitative","scale":{"domain":[0,4],"range":[0,56.6],"zero":false,"nice":false},"axis":null}},"layer":[
{"data":{"name":"cells"},"transform":[{"filter":"datum.k=='n'"}],"mark":{"type":"rect","fill":"white","stroke":"#DADADA","strokeWidth":0.8},"encoding":{"x2":{"field":"x2"},"y2":{"field":"y2"}}},
{"data":{"name":"cells"},"transform":[{"filter":"datum.k=='h'"}],"mark":{"type":"rect","fill":"#F1F1F1","stroke":"#ABABAB","strokeWidth":0.9},"encoding":{"x2":{"field":"x2"},"y2":{"field":"y2"}}},
{"data":{"name":"t2h"},"mark":{"type":"text","fontSize":9.3,"fontWeight":"bold","color":"#ED7D31","align":"left","baseline":"middle","dx":2},"encoding":{"text":{"field":"text"}}},
{"data":{"name":"t2n"},"mark":{"type":"text","fontSize":9.6,"color":"#333333","align":"right","baseline":"middle","dx":-2},"encoding":{"text":{"field":"text"}}}]}
]}
]}
